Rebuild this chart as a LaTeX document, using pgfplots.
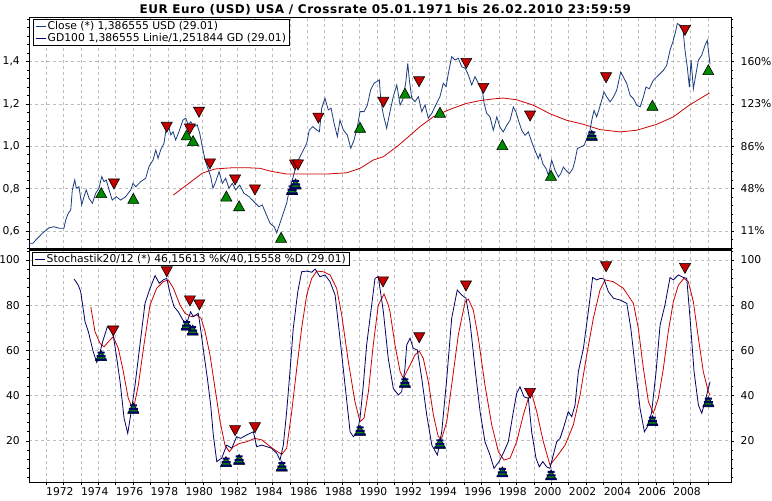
\documentclass[border=0pt]{standalone}
\usepackage{pgfplots}
\pgfplotsset{compat=1.18}
\usepackage{fontspec}
\setmainfont{DejaVu Sans}
\definecolor{closeblue}{HTML}{1A3C80}
\definecolor{kblue}{HTML}{000066}
\definecolor{gdred}{HTML}{CC0000}
\definecolor{sellred}{HTML}{C40000}
\definecolor{buygreen}{HTML}{008A00}
\definecolor{gridgray}{HTML}{BDBDBD}
\newcommand\fsz{\fontsize{10.8}{12.4}\selectfont}

\pgfdeclareplotmark{sellicon}{%
  \pgfsetlinewidth{0.6bp}\pgfsetstrokecolor{black}\pgfsetfillcolor{sellred}%
  \pgfpathmoveto{\pgfpoint{-5.5bp}{5bp}}\pgfpathlineto{\pgfpoint{5.5bp}{5bp}}%
  \pgfpathlineto{\pgfpoint{0bp}{-5bp}}\pgfpathclose\pgfusepath{fill,stroke}}
\pgfdeclareplotmark{buyicon}{%
  \pgfsetlinewidth{0.6bp}\pgfsetstrokecolor{black}\pgfsetfillcolor{buygreen}%
  \pgfpathmoveto{\pgfpoint{-5.5bp}{-5bp}}\pgfpathlineto{\pgfpoint{5.5bp}{-5bp}}%
  \pgfpathlineto{\pgfpoint{0bp}{5bp}}\pgfpathclose\pgfusepath{fill,stroke}}
\pgfdeclareplotmark{stackicon}{%
  \pgfsetlinewidth{0.6bp}\pgfsetstrokecolor{black}\pgfsetfillcolor{buygreen}%
  \pgfpathmoveto{\pgfpoint{-5.5bp}{-5bp}}\pgfpathlineto{\pgfpoint{5.5bp}{-5bp}}%
  \pgfpathlineto{\pgfpoint{0bp}{5bp}}\pgfpathclose\pgfusepath{fill,stroke}%
  \pgfsetfillcolor{kblue}%
  \pgfpathrectangle{\pgfpoint{-5.5bp}{-5bp}}{\pgfpoint{11bp}{2bp}}%
  \pgfpathrectangle{\pgfpoint{-4.5bp}{-1.5bp}}{\pgfpoint{9bp}{2bp}}%
  \pgfpathrectangle{\pgfpoint{-3.5bp}{2bp}}{\pgfpoint{7bp}{2bp}}%
  \pgfusepath{fill}}

\pgfplotsset{
  panel/.style={
    scale only axis, anchor=south west, width=702bp,
    xmin=1971.024, xmax=2011.31,
    axis line style={black, line width=0.8bp},
    xtick={1972,...,2010},
    xmajorgrids, ymajorgrids,
    grid style={gridgray, dash pattern=on 3bp off 3bp, line width=0.7bp},
    tick align=outside, major tick length=3bp, minor tick length=2bp,
    tick style={black, line width=0.6bp},
    ytick pos=left,
    ticklabel style={font=\fsz},
    yticklabel style={inner sep=0pt, anchor=east, xshift=-6bp},
    legend cell align=left,
    legend image code/.code={\draw[#1, line width=1bp] (1.5bp,0bp) -- (11.5bp,0bp);},
  },
  rpanel/.style={
    scale only axis, anchor=south west, width=702bp,
    xmin=1971.024, xmax=2011.31,
    axis x line=none, axis y line*=right,
    axis line style={black, line width=0.8bp},
    tick align=outside, major tick length=3bp, minor tick length=2bp,
    tick style={black, line width=0.6bp},
    ticklabel style={font=\fsz},
    yticklabel style={inner sep=0pt, anchor=west, xshift=6.5bp},
  },
}

\begin{document}
\begin{tikzpicture}
\fill[white] (0,0) rectangle (772bp,501bp);
\useasboundingbox (0,0) rectangle (772bp,501bp);

% ---------------- top panel ----------------
\begin{axis}[panel, at={(29bp,251.5bp)}, height=232.5bp,
  ymin=0.5125, ymax=1.611,
  xticklabels={}, major x tick style={draw=none},
  ytick={0.6,0.8,1.0,1.2,1.4}, yticklabels={{0,6},{0,8},{1,0},{1,2},{1,4}},
  minor ytick={0.52,0.56,0.64,0.68,0.72,0.76,0.84,0.88,0.92,0.96,1.04,1.08,1.12,1.16,1.24,1.28,1.32,1.36,1.44,1.48,1.52,1.56,1.6},
  legend style={at={(0.0057,0.991)}, anchor=north west, draw=black, line width=0.8bp,
    fill=white, font=\fsz, inner xsep=2bp, inner ysep=0.5bp, row sep=0pt,
    nodes={inner sep=1.3bp}},
]
\addlegendimage{closeblue}\addlegendentry{Close (*) 1,386555 USD (29.01)}
\addlegendimage{kblue}\addlegendentry{GD100 1,386555 Linie/1,251844 GD (29.01)}

\addplot[gdred, line width=0.8bp, forget plot] coordinates {
(1979.31,0.770)(1980.07,0.817)(1980.97,0.873)(1981.70,0.893)(1982.73,0.899)(1983.52,0.899)(1984.28,0.896)(1984.86,0.883)(1985.81,0.869)(1986.96,0.869)(1988.11,0.869)(1989.26,0.875)(1990.02,0.896)(1990.78,0.935)(1991.36,0.951)(1992.13,0.998)(1992.70,1.038)(1993.46,1.093)(1994.23,1.140)(1995.19,1.175)(1996.14,1.203)(1996.91,1.216)(1997.67,1.224)(1998.24,1.228)(1999.01,1.220)(1999.97,1.194)(2000.92,1.154)(2001.88,1.123)(2002.84,1.104)(2003.79,1.079)(2004.94,1.068)(2005.90,1.076)(2007.05,1.104)(2008.00,1.139)(2008.96,1.197)(2009.53,1.225)(2010.07,1.252)};

\addplot[closeblue, line width=0.8bp, forget plot] coordinates {
(1971.02,0.542)(1971.25,0.542)(1971.41,0.557)(1971.79,0.589)(1972.17,0.615)(1972.46,0.620)(1972.75,0.613)(1973.03,0.613)(1973.13,0.652)(1973.28,0.684)(1973.42,0.699)(1973.51,0.794)(1973.65,0.841)(1973.74,0.802)(1973.89,0.809)(1974.05,0.723)(1974.18,0.762)(1974.31,0.794)(1974.47,0.754)(1974.66,0.731)(1974.85,0.778)(1975.04,0.802)(1975.20,0.857)(1975.33,0.833)(1975.46,0.841)(1975.62,0.794)(1975.80,0.746)(1976.03,0.762)(1976.29,0.746)(1976.57,0.762)(1976.86,0.794)(1976.99,0.825)(1977.15,0.809)(1977.43,0.833)(1977.72,0.849)(1977.91,0.904)(1978.14,0.935)(1978.30,0.983)(1978.43,0.943)(1978.58,0.983)(1978.77,1.014)(1978.87,1.069)(1979.02,1.101)(1979.16,1.054)(1979.29,1.069)(1979.44,1.030)(1979.63,1.069)(1979.86,1.124)(1980.02,1.133)(1980.17,1.101)(1980.30,1.116)(1980.49,1.093)(1980.68,1.101)(1980.82,1.062)(1980.97,0.998)(1981.13,0.935)(1981.26,0.904)(1981.45,0.857)(1981.58,0.802)(1981.74,0.833)(1981.93,0.880)(1982.12,0.825)(1982.31,0.849)(1982.50,0.802)(1982.69,0.825)(1982.89,0.794)(1983.12,0.817)(1983.36,0.778)(1983.65,0.762)(1983.94,0.738)(1984.22,0.715)(1984.41,0.723)(1984.61,0.684)(1984.86,0.636)(1985.09,0.620)(1985.24,0.592)(1985.39,0.628)(1985.62,0.684)(1985.81,0.731)(1985.96,0.794)(1986.19,0.857)(1986.39,0.920)(1986.58,0.951)(1986.77,0.983)(1986.96,1.014)(1987.11,1.077)(1987.31,1.093)(1987.54,1.077)(1987.69,1.069)(1987.82,1.180)(1988.01,1.227)(1988.20,1.172)(1988.36,1.180)(1988.53,1.109)(1988.72,1.046)(1988.87,1.124)(1989.06,1.077)(1989.29,1.054)(1989.49,0.991)(1989.68,1.030)(1989.87,1.093)(1990.02,1.164)(1990.25,1.164)(1990.44,1.195)(1990.63,1.266)(1990.82,1.298)(1990.98,1.305)(1991.13,1.314)(1991.21,1.219)(1991.36,1.148)(1991.55,1.085)(1991.74,1.164)(1991.93,1.235)(1992.13,1.290)(1992.32,1.195)(1992.47,1.219)(1992.64,1.298)(1992.76,1.392)(1992.85,1.314)(1992.99,1.227)(1993.18,1.211)(1993.37,1.235)(1993.56,1.164)(1993.75,1.195)(1993.94,1.133)(1994.14,1.156)(1994.32,1.187)(1994.61,1.235)(1994.80,1.298)(1994.96,1.282)(1995.09,1.345)(1995.28,1.424)(1995.47,1.408)(1995.66,1.416)(1995.86,1.376)(1996.05,1.369)(1996.24,1.337)(1996.43,1.290)(1996.62,1.329)(1996.81,1.298)(1997.00,1.290)(1997.14,1.203)(1997.29,1.156)(1997.48,1.139)(1997.67,1.076)(1997.87,1.139)(1998.05,1.091)(1998.24,1.068)(1998.44,1.099)(1998.63,1.123)(1998.82,1.186)(1998.97,1.162)(1999.11,1.123)(1999.30,1.076)(1999.49,1.052)(1999.68,1.068)(1999.87,1.021)(2000.06,0.981)(2000.25,0.942)(2000.35,0.965)(2000.51,0.918)(2000.70,0.894)(2000.83,0.863)(2001.02,0.934)(2001.21,0.887)(2001.40,0.855)(2001.54,0.871)(2001.69,0.902)(2001.84,0.887)(2002.03,0.871)(2002.23,0.894)(2002.36,0.934)(2002.49,0.989)(2002.69,0.997)(2002.88,1.005)(2003.07,1.044)(2003.22,1.076)(2003.32,1.123)(2003.45,1.170)(2003.60,1.139)(2003.75,1.178)(2003.89,1.218)(2004.02,1.257)(2004.18,1.233)(2004.37,1.210)(2004.56,1.233)(2004.75,1.265)(2004.98,1.351)(2005.13,1.328)(2005.33,1.296)(2005.52,1.241)(2005.71,1.225)(2005.90,1.194)(2006.09,1.186)(2006.28,1.233)(2006.43,1.280)(2006.62,1.272)(2006.85,1.312)(2007.05,1.328)(2007.24,1.343)(2007.43,1.359)(2007.62,1.383)(2007.81,1.454)(2007.97,1.493)(2008.10,1.532)(2008.23,1.580)(2008.39,1.572)(2008.54,1.564)(2008.67,1.454)(2008.80,1.375)(2008.92,1.280)(2009.02,1.407)(2009.15,1.272)(2009.30,1.343)(2009.44,1.407)(2009.63,1.430)(2009.82,1.478)(2009.95,1.501)(2010.01,1.454)(2010.11,1.387)};

\addplot[only marks, mark=stackicon, forget plot] coordinates {
(1986.12,0.796)(1986.32,0.822)(2003.32,1.052)};
\addplot[only marks, mark=buyicon, forget plot] coordinates {
(1975.17,0.781)(1977.01,0.754)(1980.07,1.054)(1980.44,1.027)(1982.35,0.765)(1983.08,0.719)(1985.49,0.570)(1990.02,1.090)(1992.60,1.251)(1994.61,1.161)(1998.19,1.008)(2000.98,0.863)(2006.80,1.194)(2010.01,1.362)};
\addplot[only marks, mark=sellicon, forget plot] coordinates {
(1975.90,0.822)(1978.93,1.090)(1980.26,1.082)(1980.78,1.161)(1981.41,0.917)(1982.85,0.841)(1983.99,0.794)(1986.29,0.912)(1986.46,0.912)(1987.63,1.133)(1991.36,1.208)(1993.41,1.305)(1996.12,1.392)(1997.10,1.274)(1999.78,1.143)(2004.14,1.324)(2008.67,1.548)};
\end{axis}

\begin{axis}[rpanel, at={(29bp,251.5bp)}, height=232.5bp,
  ymin=0.5125, ymax=1.611,
  ytick={0.6,0.8,1.0,1.2,1.4}, yticklabels={11\%,48\%,86\%,123\%,160\%},
  minor ytick={0.52,0.56,0.64,0.68,0.72,0.76,0.84,0.88,0.92,0.96,1.04,1.08,1.12,1.16,1.24,1.28,1.32,1.36,1.44,1.48,1.52,1.56,1.6},
]
\addplot[draw=none] coordinates {(1980,1.0)};
\end{axis}

% ---------------- bottom panel ----------------
\begin{axis}[panel, at={(29bp,18.7bp)}, height=232.8bp,
  ymin=1.64, ymax=104.65,
  xtick pos=bottom,
  xticklabels={1972,,1974,,1976,,1978,,1980,,1982,,1984,,1986,,1988,,1990,,1992,,1994,,1996,,1998,,2000,,2002,,2004,,2006,,2008,,{}},
  xticklabel style={anchor=north west, inner sep=0pt, yshift=-2bp},
  minor x tick num=11,
  ytick={20,40,60,80,100}, yticklabels={20,40,60,80,100},
  minor ytick={4,8,12,16,24,28,32,36,44,48,52,56,64,68,72,76,84,88,92,96,104},
  legend style={at={(0.0043,0.989)}, anchor=north west, draw=black, line width=0.8bp,
    fill=white, font=\fsz, inner xsep=2bp, inner ysep=0.5bp, row sep=0pt,
    nodes={inner sep=1.3bp}},
]
\addlegendimage{kblue}\addlegendentry{Stochastik20/12 (*) 46,15613 \%K/40,15558 \%D (29.01)}

\addplot[gdred, line width=0.8bp, forget plot] coordinates {
(1974.57,79.3)(1974.81,68.3)(1975.10,63.1)(1975.33,61.6)(1975.58,63.8)(1975.86,66.1)(1976.15,60.9)(1976.40,52.1)(1976.72,38.8)(1977.01,33.6)(1977.30,44.7)(1977.62,62.4)(1977.97,80.1)(1978.35,87.5)(1978.73,90.4)(1979.02,91.2)(1979.31,87.5)(1979.69,80.1)(1979.98,76.4)(1980.36,74.9)(1980.65,75.7)(1980.90,74.2)(1981.13,68.3)(1981.41,58.0)(1981.70,43.2)(1981.99,28.5)(1982.27,18.1)(1982.52,15.2)(1982.75,17.4)(1983.13,18.9)(1983.52,19.6)(1983.99,21.1)(1984.38,20.4)(1984.76,18.1)(1985.14,15.9)(1985.53,14.0)(1985.81,16.7)(1986.10,32.9)(1986.39,52.1)(1986.67,69.8)(1986.96,84.5)(1987.25,91.9)(1987.54,95.1)(1987.91,94.8)(1988.30,93.4)(1988.68,87.5)(1988.97,75.7)(1989.35,55.0)(1989.73,37.3)(1990.02,28.5)(1990.25,30.0)(1990.50,41.7)(1990.78,62.4)(1991.07,80.1)(1991.40,85.0)(1991.64,80.1)(1991.74,77.1)(1992.03,62.4)(1992.32,50.6)(1992.51,47.7)(1992.89,53.5)(1993.18,58.0)(1993.42,59.7)(1993.65,56.5)(1993.94,46.2)(1994.23,31.4)(1994.51,21.8)(1994.71,21.1)(1995.00,28.5)(1995.28,44.7)(1995.66,66.8)(1996.05,81.5)(1996.24,82.7)(1996.52,77.9)(1996.81,65.4)(1997.19,44.7)(1997.58,27.0)(1997.96,15.2)(1998.28,11.5)(1998.63,12.3)(1999.01,19.6)(1999.39,31.4)(1999.68,38.8)(1999.87,41.0)(2000.16,32.9)(2000.54,19.6)(2000.92,9.3)(2001.31,13.0)(2001.79,18.1)(2002.26,27.0)(2002.65,40.3)(2003.03,58.0)(2003.41,74.2)(2003.79,86.7)(2004.08,91.2)(2004.56,90.4)(2005.13,87.5)(2005.71,80.8)(2005.99,69.8)(2006.28,52.1)(2006.57,37.3)(2006.85,32.2)(2007.14,38.8)(2007.43,52.1)(2007.71,68.3)(2008.00,81.5)(2008.29,88.9)(2008.61,91.9)(2008.86,90.4)(2009.15,81.5)(2009.44,65.4)(2009.72,50.6)(2010.01,41.7)(2010.11,40.16)};

\addplot[kblue, line width=0.8bp, forget plot] coordinates {
(1973.61,91.6)(1973.85,88.9)(1973.99,86.0)(1974.24,72.7)(1974.43,68.3)(1974.71,59.4)(1974.91,54.7)(1975.06,58.0)(1975.25,63.8)(1975.52,70.5)(1975.83,68.3)(1976.06,56.5)(1976.25,46.2)(1976.48,30.0)(1976.69,23.3)(1976.92,34.4)(1977.11,44.7)(1977.39,62.4)(1977.68,80.8)(1977.97,87.5)(1978.26,93.1)(1978.50,89.7)(1978.73,91.2)(1978.93,91.9)(1979.12,85.3)(1979.35,79.3)(1979.59,77.1)(1979.85,73.5)(1980.07,72.0)(1980.30,77.1)(1980.45,74.9)(1980.74,76.4)(1980.84,71.2)(1981.07,58.0)(1981.26,47.7)(1981.45,35.8)(1981.60,22.6)(1981.80,10.8)(1982.08,12.3)(1982.37,18.1)(1982.66,16.7)(1982.94,21.8)(1983.17,21.1)(1983.52,22.6)(1983.90,24.0)(1984.09,17.4)(1984.38,18.1)(1984.67,17.4)(1984.95,16.7)(1985.24,14.5)(1985.43,11.5)(1985.62,18.1)(1985.81,32.9)(1986.00,50.6)(1986.19,69.8)(1986.45,86.0)(1986.67,94.8)(1986.96,95.1)(1987.25,94.6)(1987.44,96.0)(1987.72,92.6)(1988.01,93.4)(1988.30,90.4)(1988.59,84.5)(1988.87,65.4)(1989.16,44.7)(1989.45,24.0)(1989.64,21.8)(1989.87,24.0)(1990.02,30.0)(1990.21,44.7)(1990.40,62.4)(1990.69,80.1)(1990.88,91.9)(1991.07,92.6)(1991.36,77.1)(1991.64,56.5)(1991.93,43.2)(1992.22,40.3)(1992.41,41.7)(1992.60,52.1)(1992.70,62.4)(1992.89,65.4)(1993.08,60.9)(1993.31,60.2)(1993.56,47.7)(1993.85,31.4)(1994.14,18.1)(1994.46,13.7)(1994.71,24.0)(1995.00,47.7)(1995.28,74.2)(1995.60,86.7)(1995.86,84.5)(1996.10,83.1)(1996.33,72.7)(1996.62,52.1)(1996.91,32.9)(1997.19,19.6)(1997.48,13.7)(1997.71,7.8)(1998.00,10.8)(1998.24,14.5)(1998.53,19.6)(1998.82,32.9)(1999.01,41.0)(1999.20,43.9)(1999.43,39.5)(1999.68,38.8)(1999.87,24.0)(2000.12,12.3)(2000.31,8.5)(2000.51,10.8)(2000.73,8.5)(2000.92,7.8)(2001.11,13.7)(2001.31,19.6)(2001.50,21.1)(2001.69,25.5)(2001.97,32.9)(2002.17,30.7)(2002.36,35.8)(2002.55,50.6)(2002.84,60.9)(2003.12,77.1)(2003.37,92.3)(2003.60,91.2)(2003.83,91.9)(2004.02,91.6)(2004.27,86.0)(2004.56,83.1)(2004.94,82.3)(2005.33,80.8)(2005.56,69.8)(2005.80,53.5)(2006.09,34.4)(2006.34,24.0)(2006.57,27.0)(2006.76,32.9)(2007.01,50.6)(2007.24,71.2)(2007.52,80.1)(2007.81,92.2)(2008.00,91.2)(2008.29,93.4)(2008.57,92.3)(2008.77,91.9)(2008.96,74.2)(2009.19,50.6)(2009.44,35.8)(2009.63,32.2)(2009.82,37.3)(2010.01,43.2)(2010.11,46.16)};

\addplot[only marks, mark=stackicon, forget plot] coordinates {
(1975.16,57.7)(1977.01,34.4)(1980.07,71.2)(1980.42,69.0)(1982.33,10.8)(1983.08,11.8)(1985.53,8.8)(1990.02,24.6)(1992.60,45.9)(1994.61,18.9)(1998.19,6.3)(2000.98,4.9)(2006.80,28.9)(2010.01,37.3)};
\addplot[only marks, mark=sellicon, forget plot] coordinates {
(1975.86,68.6)(1978.93,94.8)(1980.26,81.9)(1980.80,80.1)(1982.85,24.5)(1983.99,25.8)(1991.34,90.3)(1993.42,65.6)(1996.10,88.5)(1999.78,41.0)(2004.14,97.0)(2008.67,96.3)};
\end{axis}

\begin{axis}[rpanel, at={(29bp,18.7bp)}, height=232.8bp,
  ymin=1.64, ymax=104.65,
  ytick={20,40,60,80,100}, yticklabels={20,40,60,80,100},
  minor ytick={4,8,12,16,24,28,32,36,44,48,52,56,64,68,72,76,84,88,92,96,104},
]
\addplot[draw=none] coordinates {(1980,50)};
\end{axis}

\draw[black, line width=2.6bp] (29bp,251.5bp) -- (731.6bp,251.5bp);
\node[anchor=base, font=\bfseries\fontsize{12}{14}\selectfont\addfontfeatures{LetterSpace=4.5}] at (385.3bp,487.7bp)
  {EUR Euro (USD) USA / Crossrate 05.01.1971 bis 26.02.2010 23:59:59};
\end{tikzpicture}
\end{document}
